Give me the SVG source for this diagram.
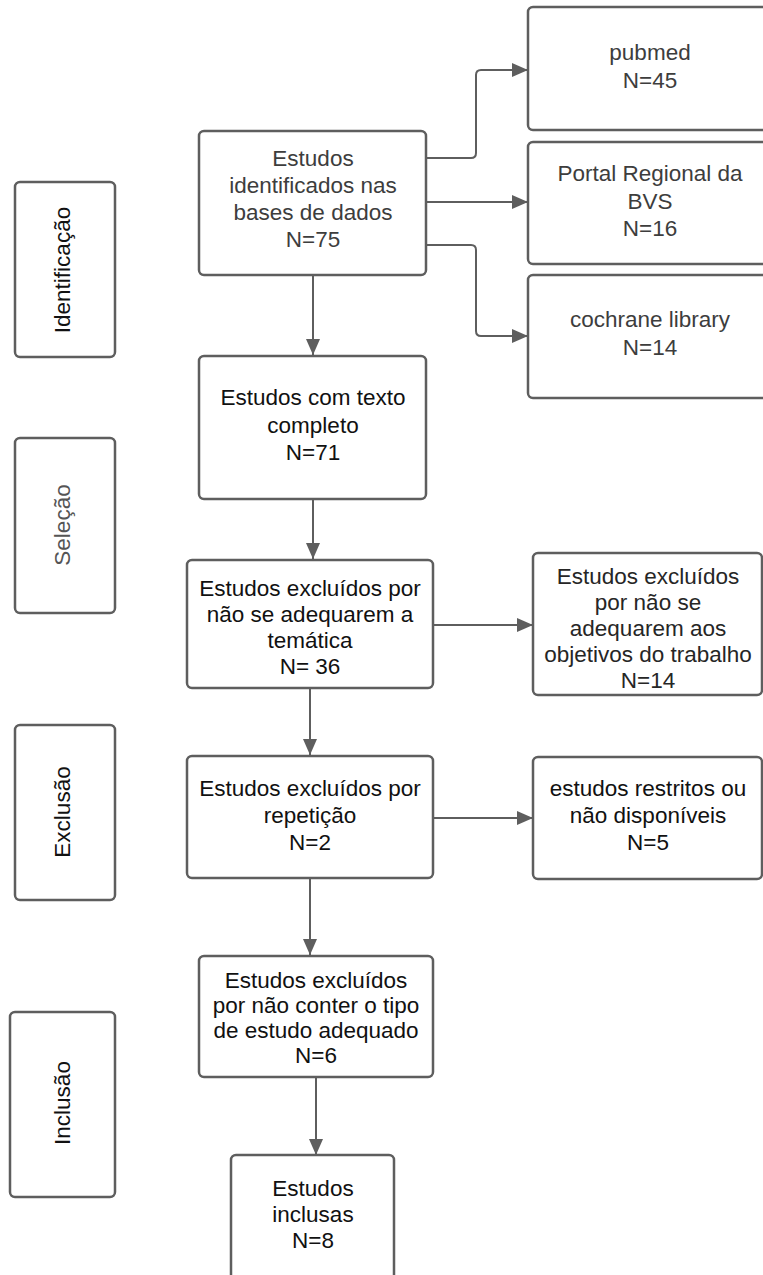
<svg xmlns="http://www.w3.org/2000/svg" width="763" height="1275" viewBox="0 0 763 1275">
<style>
.box{fill:#fff;stroke:#5e5e5e;stroke-width:2.5}
.t{font-family:"Liberation Sans",Arial,sans-serif;font-size:22.5px;text-anchor:middle;dominant-baseline:central}
.g{fill:#3d3d3d}
.k{fill:#111}
.c{fill:none;stroke:#5e5e5e;stroke-width:2}
</style>
<defs>
<marker id="ah" viewBox="0 0 16 14" refX="16" refY="7" markerWidth="16" markerHeight="14" markerUnits="userSpaceOnUse" orient="auto">
<path d="M0,0 L16,7 L0,14 Z" fill="#5e5e5e"/>
</marker>
</defs>
<rect width="763" height="1275" fill="#fff"/>
<g id="connectors">
<path class="c" d="M313,275 V355" marker-end="url(#ah)"/>
<path class="c" d="M426,158 H471 Q476,158 476,153 V75 Q476,70 481,70 H528" marker-end="url(#ah)"/>
<path class="c" d="M426,202 H528" marker-end="url(#ah)"/>
<path class="c" d="M426,245 H471 Q476,245 476,250 V331 Q476,336 481,336 H528" marker-end="url(#ah)"/>
<path class="c" d="M313,499 V559" marker-end="url(#ah)"/>
<path class="c" d="M433,625 H533" marker-end="url(#ah)"/>
<path class="c" d="M310,688 V755" marker-end="url(#ah)"/>
<path class="c" d="M433,818 H533" marker-end="url(#ah)"/>
<path class="c" d="M310,878 V955" marker-end="url(#ah)"/>
<path class="c" d="M316,1077 V1155" marker-end="url(#ah)"/>
</g>
<g id="lbl-identificacao">
<rect class="box" x="15" y="182" width="100" height="175" rx="5"/>
<text class="t k" transform="translate(62,270) rotate(-90)">Identificação</text>
</g>
<g id="lbl-selecao">
<rect class="box" x="15" y="438" width="100" height="175" rx="5"/>
<text class="t" fill="#555" transform="translate(62,525) rotate(-90)">Seleção</text>
</g>
<g id="lbl-exclusao">
<rect class="box" x="15" y="725" width="100" height="175" rx="5"/>
<text class="t k" transform="translate(62,812) rotate(-90)">Exclusão</text>
</g>
<g id="lbl-inclusao">
<rect class="box" x="10" y="1012" width="105" height="185" rx="5"/>
<text class="t k" transform="translate(62,1103) rotate(-90)">Inclusão</text>
</g>
<g id="n-identificados">
<rect class="box" x="199" y="131" width="227" height="144" rx="5"/>
<text class="t g" x="313" y="158">Estudos</text>
<text class="t g" x="313" y="185">identificados nas</text>
<text class="t g" x="313" y="212">bases de dados</text>
<text class="t g" x="313" y="239">N=75</text>
</g>
<g id="n-pubmed">
<rect class="box" x="528" y="7" width="245" height="123" rx="5"/>
<text class="t g" x="650" y="52">pubmed</text>
<text class="t g" x="650" y="80">N=45</text>
</g>
<g id="n-bvs">
<rect class="box" x="528" y="142" width="245" height="122" rx="5"/>
<text class="t g" x="650" y="173">Portal Regional da</text>
<text class="t g" x="650" y="201">BVS</text>
<text class="t g" x="650" y="228">N=16</text>
</g>
<g id="n-cochrane">
<rect class="box" x="528" y="275" width="245" height="123" rx="5"/>
<text class="t g" x="650" y="319">cochrane library</text>
<text class="t g" x="650" y="347">N=14</text>
</g>
<g id="n-completo">
<rect class="box" x="199" y="356" width="227" height="143" rx="5"/>
<text class="t k" x="313" y="397">Estudos com texto</text>
<text class="t k" x="313" y="425">completo</text>
<text class="t k" x="313" y="452">N=71</text>
</g>
<g id="n-tematica">
<rect class="box" x="187" y="560" width="246" height="128" rx="5"/>
<text class="t k" x="310" y="588">Estudos excluídos por</text>
<text class="t k" x="310" y="614">não se adequarem a</text>
<text class="t k" x="310" y="640">temática</text>
<text class="t k" x="310" y="666">N= 36</text>
</g>
<g id="n-objetivos">
<rect class="box" x="533" y="553" width="229" height="142" rx="5"/>
<text class="t" fill="#262626" x="648" y="576">Estudos excluídos</text>
<text class="t" fill="#262626" x="648" y="602">por não se</text>
<text class="t" fill="#262626" x="648" y="628">adequarem aos</text>
<text class="t" fill="#262626" x="648" y="654">objetivos do trabalho</text>
<text class="t" fill="#262626" x="648" y="680">N=14</text>
</g>
<g id="n-repeticao">
<rect class="box" x="187" y="756" width="246" height="122" rx="5"/>
<text class="t k" x="310" y="788">Estudos excluídos por</text>
<text class="t k" x="310" y="815">repetição</text>
<text class="t k" x="310" y="842">N=2</text>
</g>
<g id="n-restritos">
<rect class="box" x="533" y="757" width="229" height="122" rx="5"/>
<text class="t k" x="648" y="788">estudos restritos ou</text>
<text class="t k" x="648" y="815">não disponíveis</text>
<text class="t k" x="648" y="842">N=5</text>
</g>
<g id="n-tipo">
<rect class="box" x="199" y="956" width="234" height="121" rx="5"/>
<text class="t k" x="316" y="980">Estudos excluídos</text>
<text class="t k" x="316" y="1005">por não conter o tipo</text>
<text class="t k" x="316" y="1030">de estudo adequado</text>
<text class="t k" x="316" y="1055">N=6</text>
</g>
<g id="n-inclusas">
<rect class="box" x="231" y="1155" width="163" height="140" rx="5"/>
<text class="t k" x="313" y="1188">Estudos</text>
<text class="t k" x="313" y="1214">inclusas</text>
<text class="t k" x="313" y="1240">N=8</text>
</g>
</svg>
